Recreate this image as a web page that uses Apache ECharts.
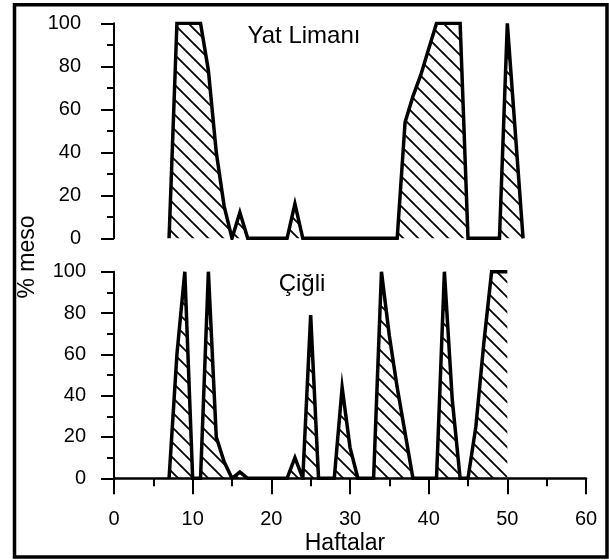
<!DOCTYPE html>
<html>
<head>
<meta charset="utf-8">
<script src="https://cdn.jsdelivr.net/npm/echarts@6/dist/echarts.min.js"></script>
<style>
  html, body { margin: 0; padding: 0; background: #fff; }
  #chart { width: 609px; height: 560px; }
</style>
</head>
<body>
<div id="chart"></div>
<script>
// haftalar (weeks) and % meso for the two stations
var weeksYat = [7, 8, 9, 10, 11, 12, 13, 14, 15, 16, 17, 18, 19, 20, 21, 22, 23, 24, 25, 26, 27, 28, 29,
  30, 31, 32, 33, 34, 35, 36, 37, 38, 39, 40, 41, 42, 43, 44, 45, 46, 47, 48, 49, 50, 51, 52];
var yatLimani = [0, 100, 100, 100, 100, 78, 40, 15, 0, 12, 0, 0, 0, 0, 0, 0, 16, 0, 0, 0, 0, 0, 0,
  0, 0, 0, 0, 0, 0, 0, 54, 66, 76, 88, 100, 100, 100, 100, 0, 0, 0, 0, 0, 100, 50, 0];

var weeksCigli = [7, 8, 9, 10, 11, 12, 13, 14, 15, 16, 17, 18, 19, 20, 21, 22, 23, 24, 25, 26, 27, 28,
  29, 30, 31, 32, 33, 34, 35, 36, 37, 38, 39, 40, 41, 42, 43, 44, 45, 46, 47, 48, 49, 50];
var cigli = [0, 60, 100, 0, 0, 100, 20, 8, 0, 3, 0, 0, 0, 0, 0, 0, 10, 0, 79, 0, 0, 0,
  44, 15, 0, 0, 0, 100, 69, 44, 22, 0, 0, 0, 0, 100, 38, 0, 0, 25, 65, 100, 100, 100];

var xTicks = [0, 60, 10];   // min, max, step
var yTicks = [0, 100, 20];

var FONT = 'Liberation Sans, Arial, sans-serif';

function pairs(xs, ys) {
  var out = [];
  for (var i = 0; i < xs.length; i++) {
    out.push([xs[i], ys[i]]);
  }
  return out;
}

// diagonal hatch pattern for the filled areas
var hatch = document.createElement('canvas');
var s = 15;
hatch.width = s;
hatch.height = s;
var hc = hatch.getContext('2d');
hc.strokeStyle = '#000';
hc.lineWidth = 1.8;
hc.beginPath();
hc.moveTo(-1, -1); hc.lineTo(s + 1, s + 1);
hc.moveTo(s - 1, -1); hc.lineTo(s + 1, 1);
hc.moveTo(-1, s - 1); hc.lineTo(1, s + 1);
hc.stroke();

var chart = echarts.init(document.getElementById('chart'), null, { renderer: 'canvas' });

function yAxis(idx, off, margin) {
  return {
    type: 'value',
    gridIndex: idx,
    min: yTicks[0],
    max: yTicks[1],
    interval: yTicks[2],
    offset: off,
    axisLine: { show: true, lineStyle: { color: '#000', width: 2 } },
    axisTick: { show: true, length: 13, lineStyle: { color: '#000', width: 2 } },
    minorTick: { show: true, splitNumber: 2, length: 7, lineStyle: { color: '#000', width: 2 } },
    axisLabel: { color: '#000', fontSize: 20, fontFamily: FONT, margin: margin },
    splitLine: { show: false }
  };
}

function areaSeries(idx, data) {
  return {
    type: 'line',
    xAxisIndex: idx,
    yAxisIndex: idx,
    data: data,
    symbol: 'none',
    lineStyle: { color: '#000', width: 3.5, join: 'miter' },
    areaStyle: { color: { image: hatch, repeat: 'repeat' }, opacity: 1 },
    animation: false
  };
}

var option = {
  backgroundColor: '#ffffff',
  animation: false,
  grid: [
    { left: 114, top: 23.3, width: 472, height: 215 },
    { left: 114, top: 271.7, width: 472, height: 206.6 }
  ],
  xAxis: [
    { type: 'value', gridIndex: 0, min: xTicks[0], max: xTicks[1], show: false },
    {
      type: 'value',
      gridIndex: 1,
      min: xTicks[0],
      max: xTicks[1],
      interval: xTicks[2],
      offset: 9,
      axisLine: { show: true, lineStyle: { color: '#000', width: 2.5 } },
      axisTick: { show: true, length: 16, lineStyle: { color: '#000', width: 2 } },
      minorTick: { show: true, splitNumber: 2, length: 8, lineStyle: { color: '#000', width: 2 } },
      axisLabel: { color: '#000', fontSize: 20, fontFamily: FONT, margin: 22 },
      splitLine: { show: false }
    }
  ],
  yAxis: [yAxis(0, 6.3, 26.7), yAxis(1, 4, 24)],
  series: [
    areaSeries(0, pairs(weeksYat, yatLimani)),
    areaSeries(1, pairs(weeksCigli, cigli))
  ],
  graphic: [
    {
      type: 'rect',
      shape: { x: 14.5, y: 4.7, width: 592.5, height: 552.3 },
      style: { fill: 'none', stroke: '#000', lineWidth: 3.5 }
    },
    {
      type: 'text', x: 304, y: 36,
      style: { text: 'Yat Limanı', fontSize: 24, fontFamily: FONT, fill: '#000', align: 'center', verticalAlign: 'middle' }
    },
    {
      type: 'text', x: 302, y: 284,
      style: { text: 'Çiğli', fontSize: 24, fontFamily: FONT, fill: '#000', align: 'center', verticalAlign: 'middle' }
    },
    {
      type: 'text', x: 345, y: 544,
      style: { text: 'Haftalar', fontSize: 23, fontFamily: FONT, fill: '#000', align: 'center', verticalAlign: 'middle' }
    },
    {
      type: 'text', x: 28, y: 257, rotation: Math.PI / 2,
      style: { text: '% meso', fontSize: 23, fontFamily: FONT, fill: '#000', align: 'center', verticalAlign: 'middle' }
    }
  ]
};

chart.setOption(option);
</script>
</body>
</html>
